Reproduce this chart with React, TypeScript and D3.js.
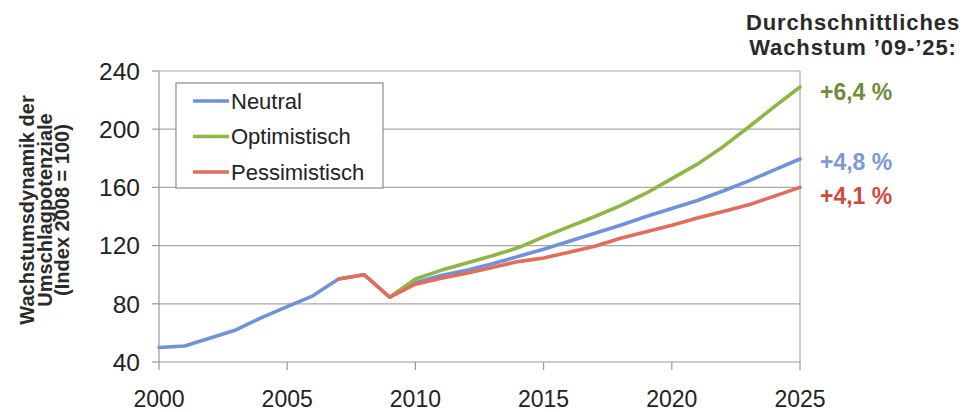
import React from "react";
import * as d3 from "d3";

const years = d3.range(2000, 2026);
const neutral = [50, 51, 56.5, 62, 70.5, 78, 85.5, 97, 100, 84.5, 94.5, 99.5, 103, 107.5, 112.5, 117.5, 123, 128.5, 134, 140, 145.5, 151, 157.5, 164.5, 172, 179.5];
const optimisticStart = 2009;
const optimistic = [84.5, 97, 103, 108, 113, 118.5, 126, 133, 140, 147.5, 156, 166, 176, 188, 201.5, 215.5, 229];
const pessimisticStart = 2007;
const pessimistic = [97, 100, 84.5, 93.5, 97.5, 101, 105, 109, 111.5, 115.5, 119.5, 125, 129.5, 134, 139, 143.5, 148, 154, 160];
const yTicks = [40, 80, 120, 160, 200, 240];
const xTicks = [2000, 2005, 2010, 2015, 2020, 2025];
const legendLabels = ["Neutral", "Optimistisch", "Pessimistisch"];
const growthLabels = ["+6,4 %", "+4,8 %", "+4,1 %"];
const titleLines = ["Durchschnittliches", "Wachstum \u201909-\u201925:"];
const yTitleLines = ["Wachstumsdynamik der", "Umschlagpotenziale", "(Index 2008 = 100)"];

const BLUE = "#6f92d8";
const GREEN = "#8db645";
const RED = "#e46c5a";
const FONT = "'Liberation Sans', Arial, sans-serif";

export default function App() {
  const x = d3.scaleLinear().domain([2000, 2025]).range([159, 800]);
  const y = d3.scaleLinear().domain([40, 240]).range([362, 71]);
  const line = d3
    .line<[number, number]>()
    .x((d) => x(d[0]))
    .y((d) => y(d[1]));

  const series = [
    { data: neutral.map((v, i) => [years[i], v] as [number, number]), color: BLUE },
    { data: optimistic.map((v, i) => [optimisticStart + i, v] as [number, number]), color: GREEN },
    { data: pessimistic.map((v, i) => [pessimisticStart + i, v] as [number, number]), color: RED },
  ];
  const legendColors = [BLUE, GREEN, RED];
  const growthColors = ["#6e8c3a", "#7b9ad6", "#cf4a3e"];
  const growthY = [100, 170, 204];

  const [x0, x1] = x.range();
  const [y0, y1] = y.range();

  return (
    <svg
      width={965}
      height={412}
      style={{ position: "absolute", left: 0, top: 0, background: "#fff" }}
      fontFamily={FONT}
    >
      <rect width={965} height={412} fill="#fff" />
      {/* grid */}
      {yTicks.slice(1).map((t) => (
        <line key={t} x1={x0} x2={x1} y1={y(t)} y2={y(t)} stroke="#a8a8a8" strokeWidth={1.2} />
      ))}
      {/* right border */}
      <line x1={x1} x2={x1} y1={y1} y2={y0} stroke="#a8a8a8" strokeWidth={1.2} />
      {/* axes */}
      <line x1={x0} x2={x0} y1={y1} y2={y0} stroke="#999" strokeWidth={1.2} />
      <line x1={x0} x2={x1} y1={y0} y2={y0} stroke="#999" strokeWidth={1.2} />
      {yTicks.map((t) => (
        <g key={t}>
          <line x1={x0 - 7} x2={x0} y1={y(t)} y2={y(t)} stroke="#999" strokeWidth={1.2} />
          <text x={140} y={y(t)} dy="0.36em" textAnchor="end" fontSize={24.5} fill="#222">
            {t}
          </text>
        </g>
      ))}
      {xTicks.map((t) => (
        <g key={t}>
          <line x1={x(t)} x2={x(t)} y1={y0} y2={y0 + 8} stroke="#999" strokeWidth={1.2} />
          <text x={x(t)} y={407} textAnchor="middle" fontSize={23} fill="#222">
            {t}
          </text>
        </g>
      ))}
      {/* series */}
      {series.map((s, i) => (
        <path
          key={i}
          d={line(s.data) || ""}
          fill="none"
          stroke={s.color}
          strokeWidth={3.6}
          strokeLinejoin="round"
          strokeLinecap="round"
        />
      ))}
      {/* legend */}
      <rect x={176} y={83} width={207} height={105} fill="#fff" stroke="#8a8a8a" strokeWidth={1.2} />
      {legendLabels.map((l, i) => (
        <g key={l}>
          <line x1={193} x2={229} y1={101 + i * 35.5} y2={101 + i * 35.5} stroke={legendColors[i]} strokeWidth={3.6} />
          <text x={231} y={101 + i * 35.5} dy="0.36em" fontSize={22} fill="#222">
            {l}
          </text>
        </g>
      ))}
      {/* y title */}
      {yTitleLines.map((l, i) => (
        <text
          key={l}
          transform={`translate(${34 + i * 17.5},210) rotate(-90)`}
          textAnchor="middle"
          fontSize={20}
          fontWeight="bold"
          fill="#2a2a2a"
        >
          {l}
        </text>
      ))}
      {/* title */}
      {titleLines.map((l, i) => (
        <text
          key={l}
          x={853}
          y={29.5 + i * 25}
          textAnchor="middle"
          fontSize={22}
          letterSpacing={0.9}
          fontWeight="bold"
          fill="#2a2a2a"
        >
          {l}
        </text>
      ))}
      {growthLabels.map((l, i) => (
        <text key={l} x={820} y={growthY[i]} fontSize={23} fontWeight="bold" fill={growthColors[i]}>
          {l}
        </text>
      ))}
    </svg>
  );
}
